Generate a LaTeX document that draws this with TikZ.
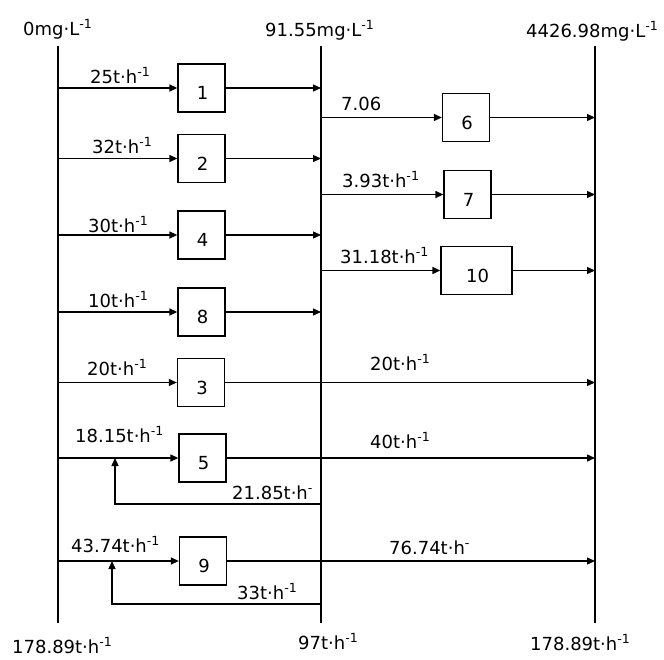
\documentclass[tikz,border=0pt]{standalone}
\usepackage{fontspec}
\setmainfont{DejaVu Sans}
\usetikzlibrary{arrows.meta}
\begin{document}
\begin{tikzpicture}[x=1pt,y=-1pt,
  every node/.style={font=\fontsize{18}{21}\selectfont, inner sep=0pt},
  lab/.style={anchor=base west},
  unit/.style={draw, line width=1.3pt, minimum width=47pt, minimum height=48pt},
  bus/.style={line width=1.4pt},
  arr/.style={line width=1.3pt, -{Triangle[length=8pt,width=7pt]}},
  num/.style={label={[yshift=-5pt,xshift=1pt]center:#1}}]
\useasboundingbox (0,0) rectangle (664,659);
% buses
\coordinate (Lt) at (58,46);  \coordinate (Lb) at (58,623);
\coordinate (Mt) at (321,46); \coordinate (Mb) at (321,623);
\coordinate (Rt) at (595,46); \coordinate (Rb) at (595,623);
\draw[bus] (Lt) -- (Lb);
\draw[bus] (Mt) -- (Mb);
\draw[bus] (Rt) -- (Rb);
% units
\node[unit,num=1] (b1) at (201.5,88) {};
\node[unit,num=2] (b2) at (201.5,158.5) {};
\node[unit,num=4] (b4) at (201.5,235) {};
\node[unit,num=8] (b8) at (201.5,312) {};
\node[unit,num=3] (b3) at (201,382.5) {};
\node[unit,num=5] (b5) at (202.5,458) {};
\node[unit,num=9] (b9) at (203,561) {};
\node[unit,num=6] (b6) at (466,117.5) {};
\node[unit,num=7] (b7) at (467.5,194.5) {};
\node[unit,num=10,minimum width=71pt] (b10) at (476.5,270.5) {};
% left to units
\foreach \b in {b1,b2,b4,b8,b3,b5,b9}{
  \draw[arr] (\b.west -| Lt) -- (\b.west);
}
% units to middle
\foreach \b in {b1,b2,b4,b8}{
  \draw[arr] (\b.east) -- (\b.east -| Mt);
}
% middle to units
\foreach \b in {b6,b7,b10}{
  \draw[arr] (\b.west -| Mt) -- (\b.west);
  \draw[arr] (\b.east) -- (\b.east -| Rt);
}
% units to right
\foreach \b in {b3,b5,b9}{
  \draw[arr] (\b.east) -- (\b.east -| Rt);
}
% recycles
\coordinate (r5) at (321,504); \coordinate (t5) at (115,504);
\draw[arr] (r5) -- (t5) -- (t5 |- b5.west);
\coordinate (r9) at (321,604); \coordinate (t9) at (112,604);
\draw[arr] (r9) -- (t9) -- (t9 |- b9.west);
% labels
\node[lab] (h1) at (23,35) {0mg·L\textsuperscript{-1}};
\node[lab] (h2) at (265,36) {91.55mg·L\textsuperscript{-1}};
\node[lab] (h3) at (526,37) {4426.98mg·L\textsuperscript{-1}};
\node[lab] (f1) at (12,653) {178.89t·h\textsuperscript{-1}};
\node[lab] (f2) at (298,649) {97t·h\textsuperscript{-1}};
\node[lab] (f3) at (530,650) {178.89t·h\textsuperscript{-1}};
\node[lab] (q1) at (90,83) {25t·h\textsuperscript{-1}};
\node[lab] (q2) at (92,153) {32t·h\textsuperscript{-1}};
\node[lab] (q4) at (88,232) {30t·h\textsuperscript{-1}};
\node[lab] (q8) at (88,307) {10t·h\textsuperscript{-1}};
\node[lab] (q3) at (87,375) {20t·h\textsuperscript{-1}};
\node[lab] (q5) at (75,442) {18.15t·h\textsuperscript{-1}};
\node[lab] (q9) at (71,552) {43.74t·h\textsuperscript{-1}};
\node[lab] (q6) at (341,110) {7.06};
\node[lab] (q7) at (342,187) {3.93t·h\textsuperscript{-1}};
\node[lab] (q10) at (340,263) {31.18t·h\textsuperscript{-1}};
\node[lab] (o3) at (370,370) {20t·h\textsuperscript{-1}};
\node[lab] (o5) at (370,448) {40t·h\textsuperscript{-1}};
\node[lab] (o9) at (389,554) {76.74t·h\textsuperscript{-}};
\node[lab] (c5) at (232,499) {21.85t·h\textsuperscript{-}};
\node[lab] (c9) at (237,599) {33t·h\textsuperscript{-1}};
\end{tikzpicture}
\end{document}
